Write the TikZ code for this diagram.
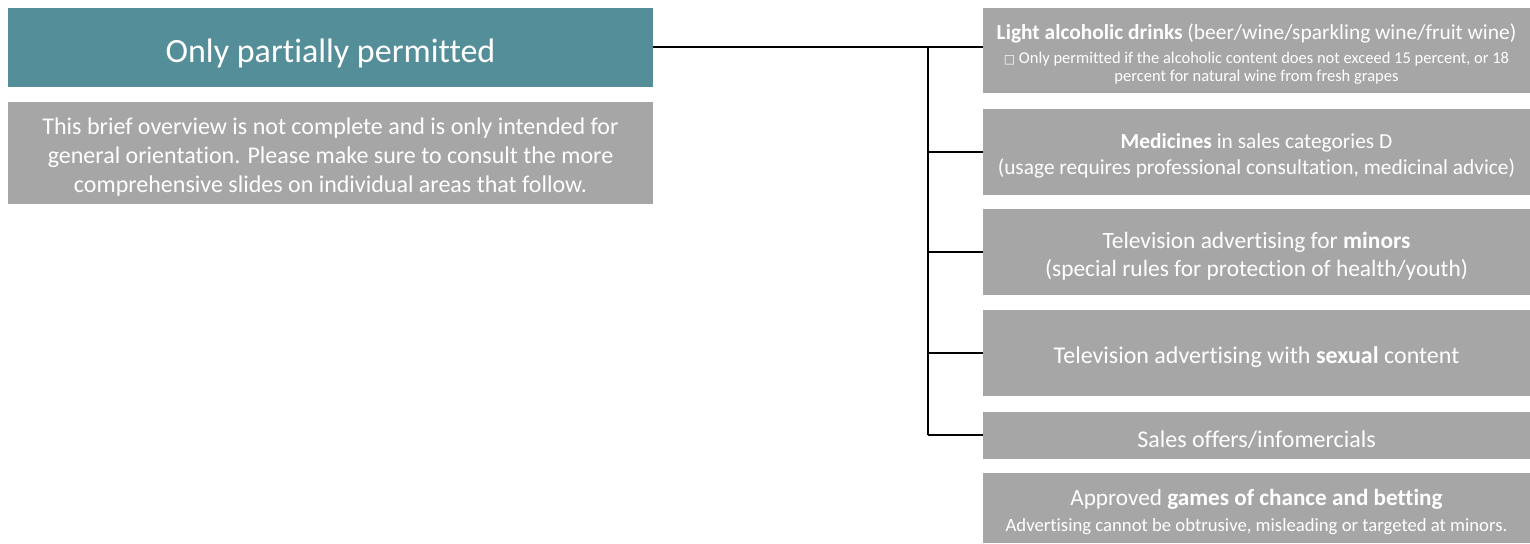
\documentclass[tikz,border=0pt]{standalone}
\usepackage{fontspec}
\setmainfont[Ligatures=NoCommon]{Carlito}
\newfontfamily\symfont{DejaVu Sans}
\usepackage{tikz}

\definecolor{tealbox}{RGB}{84,142,153}
\definecolor{graybox}{RGB}{166,166,166}
% baja un poco el texto dentro de la caja
\newcommand{\lift}{\rule{0pt}{1.05em}}

\begin{document}
\begin{tikzpicture}[x=1pt,y=-1pt,
    box/.style={fill=graybox,text=white,align=center,inner sep=0pt,minimum width=547pt},
    conn/.style={line width=1.5pt,black},
    big/.style={font=\fontsize{24}{29}\selectfont}]
    \useasboundingbox (0,0) rectangle (1530,543);

    % Bloque de la izquierda
    \node[box,fill=tealbox,minimum width=645pt,minimum height=79pt,
          font=\fontsize{34}{40}\selectfont] (title) at (330.5,47.5) {\lift Only partially permitted};
    \node[box,big,minimum width=645pt,minimum height=102pt] (note) at (330.5,153)
        {\lift This brief overview is not complete and is only intended for\\
         general orientation. Please make sure to consult the more\\
         comprehensive slides on individual areas that follow.};

    % Cajas de la derecha
    \node[box,font=\fontsize{21.4}{24}\selectfont,minimum height=85pt] (drinks) at (1256.5,50.5)
        {\lift\textbf{Light alcoholic drinks} (beer/wine/sparkling wine/fruit wine)\\
         \fontsize{16.5}{18}\selectfont{\symfont\fontsize{12}{18}\selectfont □} Only permitted if the alcoholic content does not exceed 15 percent, or 18\\[-6pt]
         \fontsize{16.5}{18}\selectfont percent for natural wine from fresh grapes};
    \node[box,font=\fontsize{21.4}{26}\selectfont,minimum height=86pt] (medicines) at (1256.5,152)
        {\lift\textbf{Medicines} in sales categories D\\
         (usage requires professional consultation, medicinal advice)};
    \node[box,font=\fontsize{23.4}{28}\selectfont,minimum height=86pt] (minors) at (1256.5,252)
        {\lift Television advertising for \textbf{minors}\\
         (special rules for protection of health/youth)};
    \node[box,big,minimum height=86pt] (sexual) at (1256.5,353)
        {\lift Television advertising with \textbf{sexual} content};
    \node[box,big,minimum height=47pt] (sales) at (1256.5,435)
        {\lift Sales offers/infomercials};
    \node[box,font=\fontsize{23.2}{26}\selectfont,minimum height=70pt] (games) at (1256.5,508)
        {\lift Approved \textbf{games of chance and betting}\\
         \fontsize{18.7}{22}\selectfont Advertising cannot be obtrusive, misleading or targeted at minors.};

    % Conectores
    \coordinate (fork) at (928,47);
    \draw[conn] (title.east |- fork) -- (drinks.west |- fork);
    \draw[conn] (fork) -- (fork |- sales.west);
    \foreach \n in {medicines,minors,sexual,sales}
        \draw[conn] (fork |- \n.west) -- (\n.west);
\end{tikzpicture}
\end{document}
